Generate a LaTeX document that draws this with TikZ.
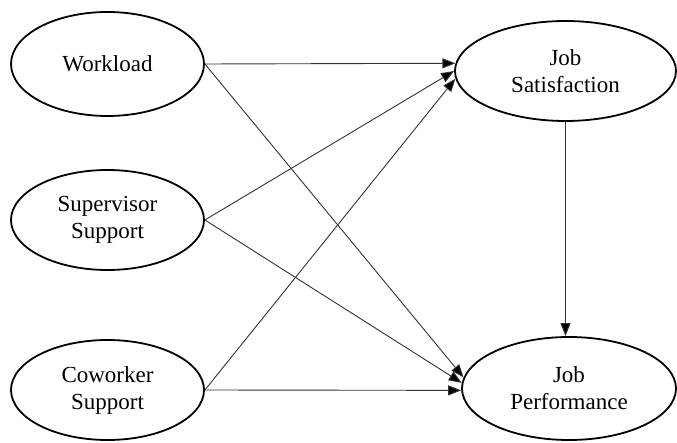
\documentclass[tikz,border=0pt]{standalone}
\usepackage{fontspec}
\setmainfont{Liberation Serif}
\usetikzlibrary{shapes.geometric,arrows.meta}
\begin{document}
\begin{tikzpicture}[x=1pt,y=-1pt,
  var/.style={ellipse,draw=black,line width=1.8pt,inner sep=0pt,align=center,
    font=\fontsize{23}{27}\selectfont},
  conn/.style={draw=black!80,line width=0.9pt,-{Triangle[length=13pt,width=10pt,fill=black]}}]
\useasboundingbox (0,0) rectangle (677,443);
\node[var,minimum width=193pt,minimum height=104pt] (wl) at (107.5,64) {Workload};
\node[var,minimum width=193pt,minimum height=100pt] (ss) at (107.5,220) {Supervisor\\Support};
\node[var,minimum width=193pt,minimum height=100pt] (cs) at (107.5,390) {Coworker\\Support};
\node[var,minimum width=221pt,minimum height=100pt] (js) at (565.5,71) {Job\\Satisfaction};
\node[var,minimum width=214pt,minimum height=103pt] (jp) at (569,388.5) {Job\\Performance};
\draw[conn] (wl.east) -- (js.176);
\draw[conn] (wl.east) -- (jp.174);
\draw[conn] (ss.east) -- (js.180);
\draw[conn] (ss.east) -- (jp.177);
\draw[conn] (cs.east) -- (js.184);
\draw[conn] (cs.east) -- (jp.181);
\draw[conn] (js.south) -- (js.south |- jp.north);
\end{tikzpicture}
\end{document}
